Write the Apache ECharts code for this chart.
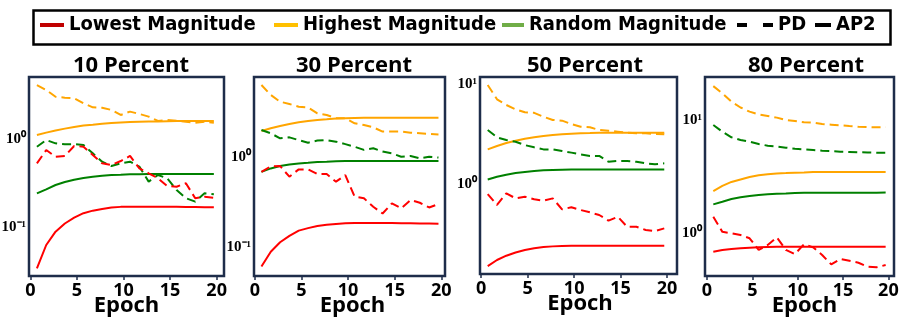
<!DOCTYPE html>
<html>
<head>
<meta charset="utf-8">
<script src="https://cdn.jsdelivr.net/npm/echarts@6/dist/echarts.min.js"></script>
<style>
  html, body { margin: 0; padding: 0; background: #fff; }
  #chart-container { width: 912px; height: 326px; }
</style>
</head>
<body>
<div id="chart-container"></div>
<script>
// epochs as plotted (x positions)
const epochs = [0.7, 1.7, 2.7, 3.7, 4.7, 5.7, 6.7, 7.7, 8.7, 9.7, 10.7, 11.7, 12.7, 13.7, 14.7, 15.7, 16.7, 17.7, 18.7, 19.7];
const xTicks = [0, 5, 10, 15, 20];
const panelTitles = ["10 Percent", "30 Percent", "50 Percent", "80 Percent"];

// 10 percent
const p10HighPD = [4.07, 3.58, 3.0, 2.93, 2.88, 2.53, 2.28, 2.26, 2.13, 1.87, 2.04, 1.92, 1.79, 1.60, 1.64, 1.61, 1.57, 1.53, 1.57, 1.53];
const p10HighAP2 = [1.11, 1.18, 1.25, 1.31, 1.37, 1.42, 1.45, 1.49, 1.52, 1.54, 1.56, 1.57, 1.58, 1.58, 1.59, 1.60, 1.60, 1.60, 1.60, 1.60];
const p10RandPD = [0.818, 0.975, 0.893, 0.871, 0.875, 0.855, 0.689, 0.554, 0.495, 0.531, 0.554, 0.487, 0.330, 0.392, 0.360, 0.265, 0.214, 0.196, 0.243, 0.237];
const p10RandAP2 = [0.243, 0.270, 0.302, 0.327, 0.347, 0.362, 0.375, 0.385, 0.392, 0.395, 0.399, 0.400, 0.402, 0.402, 0.402, 0.402, 0.402, 0.402, 0.402, 0.402];
const p10LowPD = [0.531, 0.751, 0.631, 0.643, 0.834, 0.819, 0.659, 0.531, 0.508, 0.564, 0.643, 0.466, 0.409, 0.360, 0.294, 0.289, 0.316, 0.214, 0.223, 0.217];
const p10LowAP2 = [0.0346, 0.0634, 0.0897, 0.111, 0.129, 0.145, 0.155, 0.162, 0.168, 0.171, 0.172, 0.172, 0.172, 0.172, 0.171, 0.171, 0.170, 0.170, 0.169, 0.169];

// 30 percent
const p30HighPD = [6.26, 4.85, 4.08, 3.85, 3.59, 3.53, 3.03, 2.91, 2.67, 2.67, 2.35, 2.25, 2.12, 1.90, 1.90, 1.90, 1.85, 1.82, 1.79, 1.77];
const p30HighAP2 = [1.93, 2.07, 2.19, 2.31, 2.41, 2.49, 2.56, 2.60, 2.65, 2.67, 2.69, 2.71, 2.71, 2.71, 2.71, 2.71, 2.71, 2.71, 2.71, 2.71];
const p30RandPD = [1.98, 1.82, 1.60, 1.64, 1.53, 1.43, 1.51, 1.53, 1.47, 1.38, 1.29, 1.19, 1.24, 1.14, 1.09, 1.00, 1.02, 0.96, 1.00, 0.98];
const p30RandAP2 = [0.679, 0.741, 0.787, 0.821, 0.843, 0.857, 0.873, 0.880, 0.889, 0.896, 0.896, 0.896, 0.896, 0.896, 0.896, 0.896, 0.896, 0.896, 0.896, 0.896];
const p30LowPD = [0.679, 0.782, 0.787, 0.600, 0.723, 0.723, 0.641, 0.641, 0.528, 0.625, 0.360, 0.345, 0.278, 0.234, 0.303, 0.267, 0.330, 0.308, 0.273, 0.298];
const p30LowAP2 = [0.0604, 0.088, 0.112, 0.132, 0.151, 0.161, 0.170, 0.175, 0.179, 0.182, 0.183, 0.183, 0.183, 0.183, 0.183, 0.182, 0.182, 0.181, 0.181, 0.180];

// 50 percent
const p50HighPD = [9.77, 7.03, 6.17, 5.58, 5.21, 5.15, 4.71, 4.37, 4.30, 3.98, 3.74, 3.69, 3.47, 3.41, 3.34, 3.26, 3.21, 3.21, 3.16, 3.14];
const p50HighAP2 = [2.22, 2.40, 2.57, 2.71, 2.84, 2.93, 3.02, 3.09, 3.14, 3.19, 3.21, 3.23, 3.26, 3.26, 3.26, 3.26, 3.26, 3.26, 3.26, 3.26];
const p50RandPD = [3.47, 2.93, 2.75, 2.65, 2.45, 2.33, 2.22, 2.22, 2.14, 2.06, 1.98, 1.91, 1.91, 1.67, 1.70, 1.70, 1.67, 1.61, 1.58, 1.61];
const p50RandAP2 = [1.11, 1.18, 1.24, 1.29, 1.32, 1.35, 1.37, 1.38, 1.39, 1.40, 1.40, 1.40, 1.40, 1.40, 1.40, 1.40, 1.40, 1.40, 1.40, 1.40];
const p50LowPD = [0.794, 0.617, 0.807, 0.719, 0.747, 0.703, 0.681, 0.719, 0.558, 0.585, 0.550, 0.521, 0.490, 0.430, 0.471, 0.374, 0.374, 0.347, 0.339, 0.360];
const p50LowAP2 = [0.151, 0.174, 0.192, 0.207, 0.219, 0.228, 0.234, 0.238, 0.240, 0.242, 0.242, 0.242, 0.242, 0.242, 0.242, 0.242, 0.242, 0.242, 0.242, 0.242];

// 80 percent
const p80HighPD = [19.9, 17.2, 14.5, 12.9, 11.85, 11.2, 10.85, 10.5, 10.0, 9.8, 9.55, 9.5, 9.22, 9.1, 8.98, 8.85, 8.73, 8.68, 8.62, 8.62];
const p80HighAP2 = [2.36, 2.62, 2.84, 2.99, 3.14, 3.25, 3.32, 3.38, 3.40, 3.43, 3.45, 3.48, 3.48, 3.48, 3.48, 3.48, 3.48, 3.48, 3.48, 3.48];
const p80RandPD = [9.03, 7.89, 7.04, 6.66, 6.44, 6.14, 5.93, 5.82, 5.70, 5.58, 5.51, 5.44, 5.36, 5.31, 5.25, 5.22, 5.19, 5.17, 5.15, 5.15];
const p80RandAP2 = [1.80, 1.90, 2.01, 2.08, 2.13, 2.18, 2.21, 2.24, 2.25, 2.27, 2.28, 2.28, 2.28, 2.28, 2.28, 2.28, 2.28, 2.28, 2.28, 2.29];
const p80LowPD = [1.40, 1.03, 1.00, 0.966, 0.904, 0.713, 0.789, 0.922, 0.713, 0.656, 0.800, 0.752, 0.643, 0.532, 0.593, 0.573, 0.550, 0.508, 0.501, 0.525];
const p80LowAP2 = [0.689, 0.712, 0.726, 0.737, 0.747, 0.752, 0.757, 0.762, 0.762, 0.762, 0.762, 0.762, 0.762, 0.762, 0.762, 0.762, 0.762, 0.762, 0.762, 0.762];

// plot boxes and axis ranges per panel
var panels = [
  { grid: { left: 29, top: 77, width: 195, height: 199 }, x: [-0.15, 20.79], y: [0.0283, 5.02], title: 131, nameShift: 0,
    low: [p10LowPD, p10LowAP2], high: [p10HighPD, p10HighAP2], rand: [p10RandPD, p10RandAP2] },
  { grid: { left: 254, top: 77, width: 191, height: 199 }, x: [-0.1, 20.4], y: [0.0473, 7.68], title: 354, nameShift: 6,
    low: [p30LowPD, p30LowAP2], high: [p30HighPD, p30HighAP2], rand: [p30RandPD, p30RandAP2] },
  { grid: { left: 480, top: 77, width: 197, height: 197 }, x: [-0.13, 21.07], y: [0.126, 11.75], title: 585, nameShift: 3,
    low: [p50LowPD, p50LowAP2], high: [p50HighPD, p50HighAP2], rand: [p50RandPD, p50RandAP2] },
  { grid: { left: 705, top: 77, width: 189, height: 199 }, x: [-0.215, 20.62], y: [0.42, 23.97], title: 806, nameShift: 10,
    low: [p80LowPD, p80LowAP2], high: [p80HighPD, p80HighAP2], rand: [p80RandPD, p80RandAP2] },
];

var frameColor = "#1e2d4a";
var plotColors = { low: "#ff0000", high: "#ffa500", rand: "#008000" };
var legendColors = { low: "#c00000", high: "#ffc000", rand: "#70ad47" };
var seriesNames = { low: "Lowest Magnitude", high: "Highest Magnitude", rand: "Random Magnitude" };
var sup = { "-1": "\u207b\u00b9", "0": "\u2070", "1": "\u00b9" };

function toPoints(values) {
  return values.map(function (v, i) { return [epochs[i], v]; });
}

var grid = [], xAxis = [], yAxis = [], title = [], series = [];

panels.forEach(function (p, idx) {
  grid.push(Object.assign({ show: true, borderColor: frameColor, borderWidth: 2.5, containLabel: false, outerBoundsMode: "none" }, p.grid));
  title.push({
    text: panelTitles[idx], left: p.title, top: 53, textAlign: "center", padding: 0,
    textStyle: { fontFamily: "Open Sans", fontWeight: "bold", fontSize: 22, color: "#000", lineHeight: 26 },
  });
  xAxis.push({
    type: "value", gridIndex: idx, min: p.x[0], max: p.x[1],
    name: "Epoch", nameLocation: "middle", nameGap: 19, nameMoveOverlap: false,
    nameTextStyle: { fontFamily: "Open Sans", fontWeight: "bold", fontSize: 22, color: "#000", padding: [0, 0, 0, p.nameShift] },
    axisLine: { show: false },
    splitLine: { show: false },
    axisTick: { show: true, customValues: xTicks, length: 4, lineStyle: { color: frameColor, width: 1.5 } },
    axisLabel: { customValues: xTicks, margin: 6, fontFamily: "Open Sans", fontWeight: "bold", fontSize: 18, color: "#000" },
  });
  yAxis.push({
    type: "log", logBase: 10, gridIndex: idx, min: p.y[0], max: p.y[1],
    axisLine: { show: false },
    splitLine: { show: false },
    axisTick: { show: false },
    axisLabel: {
      showMinLabel: false, showMaxLabel: false, margin: 3,
      fontFamily: "Liberation Serif", fontWeight: "bold", fontSize: 15, color: "#000",
      formatter: function (v) {
        var e = Math.round(Math.log10(v));
        return "10" + (sup[String(e)] || "");
      },
    },
  });
  ["high", "rand", "low"].forEach(function (key) {
    // PD dashed, AP2 solid
    [0, 1].forEach(function (k) {
      series.push({
        name: seriesNames[key], type: "line", xAxisIndex: idx, yAxisIndex: idx,
        data: toPoints(p[key][k]), symbol: "none", showSymbol: false,
        lineStyle: { color: plotColors[key], width: 2, type: k === 0 ? [9, 5] : "solid" },
        itemStyle: { color: plotColors[key] },
      });
    });
  });
});

// dummy series so the style entries show in the legend
series.push({ name: "PD", type: "line", data: [], xAxisIndex: 0, yAxisIndex: 0, lineStyle: { color: "#000", type: "dashed" } });
series.push({ name: "AP2", type: "line", data: [], xAxisIndex: 0, yAxisIndex: 0, lineStyle: { color: "#000" } });

var legendText = { fontFamily: "'DejaVu Sans Condensed', sans-serif", fontWeight: "bold", fontSize: 20, color: "#000", lineHeight: 26 };
function legendItem(name, left, width, icon, color) {
  return {
    left: left, top: 12, padding: 0, itemWidth: width, itemHeight: 4, icon: icon,
    itemStyle: { borderWidth: 0 }, textStyle: legendText,
    data: [{ name: name, icon: icon, itemStyle: { color: color, borderWidth: 0 } }],
  };
}

var option = {
  animation: false,
  backgroundColor: "#fff",
  title: title,
  legend: [
    legendItem("Lowest Magnitude", 40, 24, "rect", legendColors.low),
    legendItem("Highest Magnitude", 274, 24, "rect", legendColors.high),
    legendItem("Random Magnitude", 502, 22, "rect", legendColors.rand),
    legendItem("PD", 737, 36, "path://M0,0H10V4H0Z M26,0H36V4H26Z", "#000"),
    legendItem("AP2", 815, 16, "rect", "#000"),
  ],
  graphic: [
    { type: "rect", left: 31, top: 8, shape: { width: 857, height: 34 }, style: { fill: "none", stroke: "#000", lineWidth: 2.5 } },
  ],
  grid: grid,
  xAxis: xAxis,
  yAxis: yAxis,
  series: series,
};

var dom = document.getElementById("chart-container");
var myChart = echarts.init(dom, null, { renderer: "canvas" });
myChart.setOption(option);
</script>
</body>
</html>
